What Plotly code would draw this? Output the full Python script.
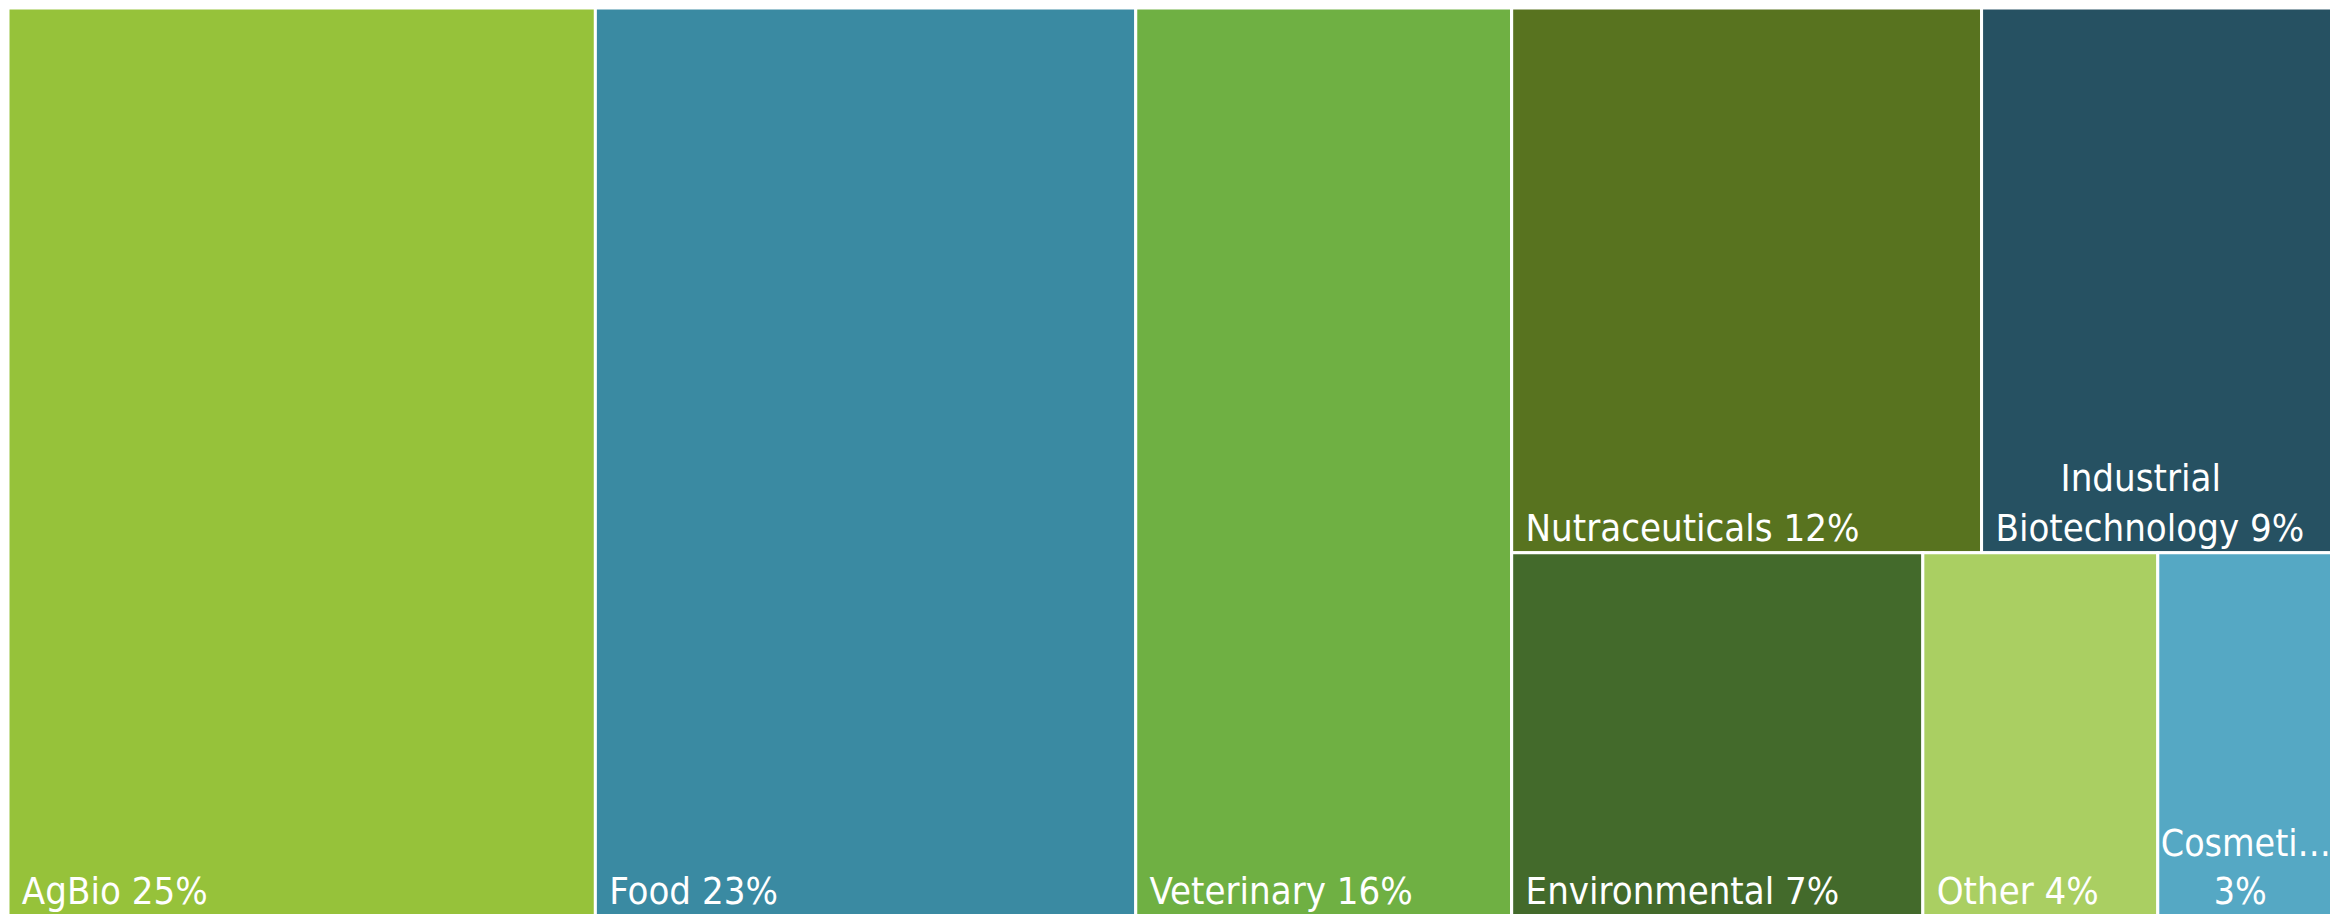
import plotly.graph_objects as go

# Data (shares in %)
categories = ["AgBio", "Food", "Veterinary", "Nutraceuticals", "Industrial Biotechnology",
              "Environmental", "Other", "Cosmetics"]
shares = [25, 23, 16, 12, 9, 7, 4, 3]
NB = "\u00a0"
display_text = [NB + "AgBio 25%", NB + "Food 23%", NB + "Veterinary 16%", NB + "Nutraceuticals 12%",
                NB * 7 + "Industrial<br>" + NB + "Biotechnology 9%", NB + "Environmental 7%",
                NB + "Other 4%", "Cosmeti…<br>" + NB * 5 + "3%"]
colors = ["#96c23a", "#3a8aa2", "#6fb043", "#58731f", "#265162", "#436a2b", "#aacf62", "#55a8c4"]
# layout grouping (to reproduce the reference tiling)
group_of = ["root", "root", "root", "TopRow", "TopRow", "BottomRow", "BottomRow", "BottomRow"]

# build hierarchy in drawing order
ids, parents, values, texts, marker_colors = ["root"], [""], [0], [""], ["#ffffff"]
containers = {"TopRow": "Group", "BottomRow": "Group", "Group": "root"}
added = set()
for cat, sh, txt, col, grp in zip(categories, shares, display_text, colors, group_of):
    if grp != "root" and grp not in added:
        chain = []
        g = grp
        while g != "root" and g not in added:
            chain.append(g)
            g = containers[g]
        for g in reversed(chain):
            ids.append(g); parents.append(containers[g]); values.append(0)
            texts.append(""); marker_colors.append("#ffffff"); added.add(g)
    ids.append(cat); parents.append(grp); values.append(sh)
    texts.append(txt); marker_colors.append(col)

fig = go.Figure(go.Treemap(
    ids=ids,
    labels=ids,
    parents=parents,
    values=values,
    branchvalues="remainder",
    sort=False,
    text=texts,
    textinfo="text",
    textposition="bottom left",
    textfont=dict(family="DejaVu Sans Condensed, sans-serif", size=38, color="white"),
    marker=dict(colors=marker_colors, line=dict(color="white", width=3),
                pad=dict(t=0, l=0, r=0, b=0), depthfade=False),
    tiling=dict(packing="slice-dice", pad=0),
    pathbar=dict(visible=False),
    hoverinfo="skip",
))

fig.update_layout(
    width=2338, height=914,
    margin=dict(l=0, r=12, t=0, b=6),
    paper_bgcolor="white",
    showlegend=False,
)

fig.write_html("out.html")
